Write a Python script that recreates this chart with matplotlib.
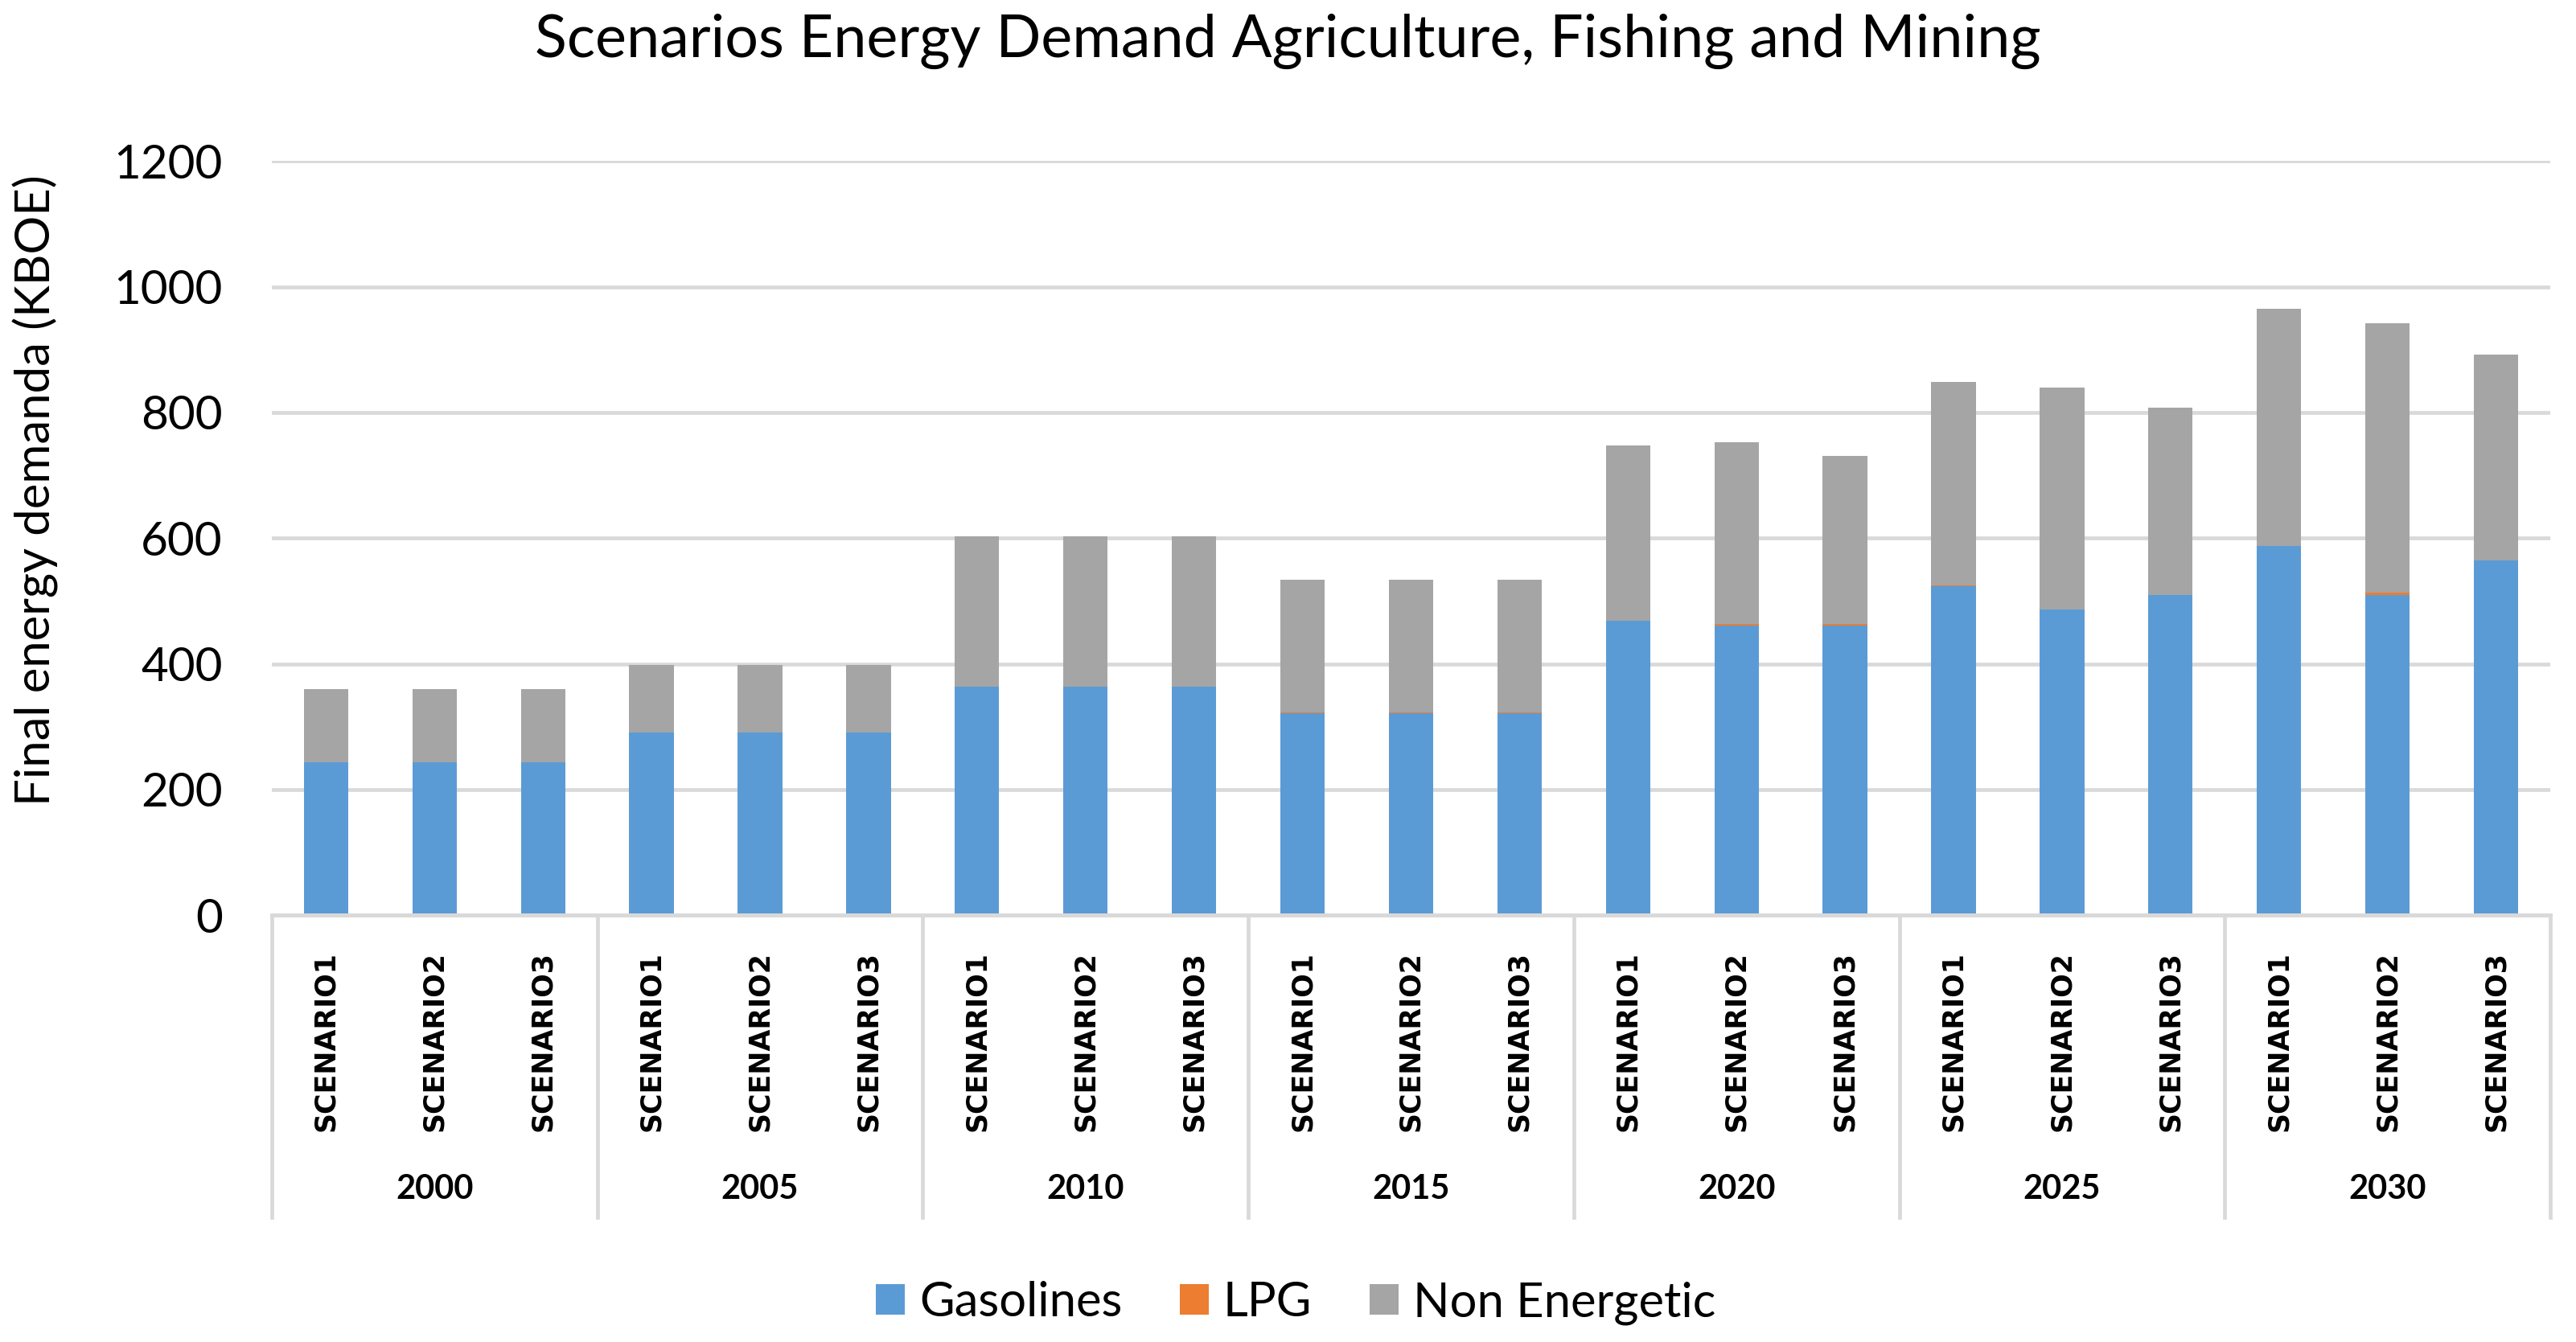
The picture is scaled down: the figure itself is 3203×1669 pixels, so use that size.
import numpy as np
import matplotlib.pyplot as plt
from matplotlib.transforms import blended_transform_factory
from matplotlib.lines import Line2D

years = ['2000', '2005', '2010', '2015', '2020', '2025', '2030']
scenarios = ['SCENARIO1', 'SCENARIO2', 'SCENARIO3']

gasolines = [244, 244, 244,
             291, 291, 291,
             364, 364, 364,
             321, 321, 321,
             468, 461, 461,
             524, 486, 509,
             588, 510, 565]
lpg = [0, 0, 0,
       0, 0, 0,
       0, 0, 0,
       2, 2, 2,
       0, 2, 2,
       1, 1, 1,
       0, 3, 0]
totals = [360, 360, 360,
          398, 398, 398,
          603, 603, 603,
          534, 534, 534,
          747, 753, 731,
          849, 840, 808,
          965, 942, 892]

non_energetic = [t - g - l for t, g, l in zip(totals, gasolines, lpg)]

plt.rcParams['font.family'] = ['Lato', 'DejaVu Sans']

fig = plt.figure(figsize=(16.015, 8.345), dpi=200)
ax = fig.add_axes([0.1055, 0.318, 0.8845, 0.562])

x = np.arange(len(gasolines))
w = 0.41
ax.bar(x, gasolines, w, color='#5B9BD5', label='Gasolines', zorder=3)
ax.bar(x, lpg, w, bottom=gasolines, color='#ED7D31', label='LPG', zorder=3)
ax.bar(x, non_energetic, w, bottom=np.array(gasolines) + np.array(lpg),
       color='#A5A5A5', label='Non Energetic', zorder=3)

ax.set_xlim(-0.5, len(x) - 0.5)
ax.set_ylim(0, 1200)
ax.set_yticks(range(0, 1201, 200))
ax.tick_params(axis='y', length=0, labelsize=21, pad=22)
ax.set_xticks([])
for s in ax.spines.values():
    s.set_visible(False)
ax.grid(axis='y', color='#D9D9D9', linewidth=1.7, zorder=0)

# category axis
trans = blended_transform_factory(ax.transData, fig.transFigure)
ax.plot([-0.5, len(x) - 0.5], [0, 0], color='#D9D9D9', lw=1.8, clip_on=False, zorder=4)
for b in np.arange(-0.5, len(x), 3):
    fig.add_artist(Line2D([b, b], [0.318, 0.0929], transform=trans,
                          color='#D9D9D9', lw=1.7))
for i, xi in enumerate(x):
    fig.text(xi, 0.224, scenarios[i % 3], transform=trans, rotation=90,
             ha='center', va='center', fontsize=12.5, fontweight='bold',
             family='DejaVu Sans')
for j, yr in enumerate(years):
    fig.text(3 * j + 1, 0.1138, yr, transform=trans, ha='center', va='center',
             fontsize=15, fontweight='bold')

fig.text(0.5, 0.969, 'Scenarios Energy Demand Agriculture, Fishing and Mining',
         ha='center', va='center', fontsize=26.5)
fig.text(0.014, 0.635, 'Final energy demanda (KBOE)', rotation=90,
         ha='center', va='center', fontsize=21.5)

fig.legend(loc='center', bbox_to_anchor=(0.503, 0.029), ncol=3, frameon=False,
           fontsize=21.5, handlelength=0.6, handleheight=0.6, handletextpad=0.3,
           columnspacing=1.2)

fig.savefig('out.png', dpi=200)
